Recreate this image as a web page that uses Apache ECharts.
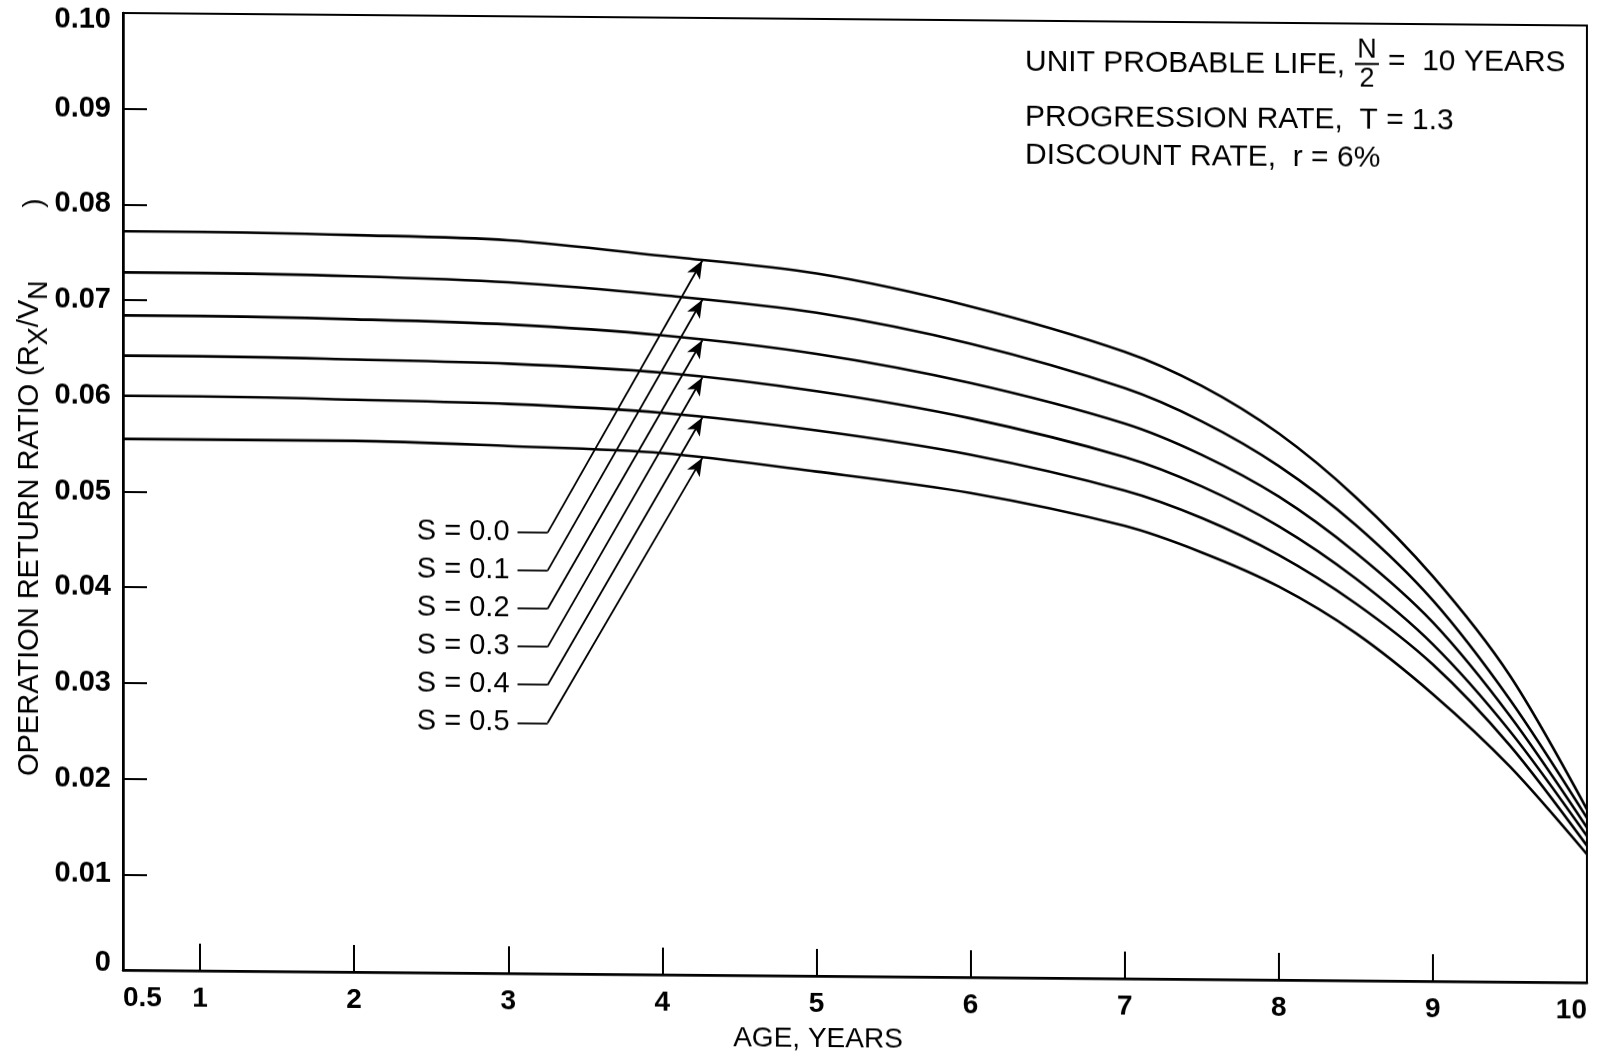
<!DOCTYPE html>
<html>
<head>
<meta charset="utf-8">
<script src="https://cdn.jsdelivr.net/npm/echarts@6/dist/echarts.min.js"></script>
<style>
  html, body { margin: 0; padding: 0; background: #fff; }
  /* the sheet sits very slightly tilted, right side lower */
  #chart { width: 1598px; height: 1060px; transform: skewY(0.49deg); transform-origin: 123px 0; }
</style>
</head>
<body>
<div id="chart"></div>
<script>
// Age in years at which the curves are sampled
const AGES = [0.5, 1, 2, 3, 4, 5, 6, 7, 7.5, 8, 8.5, 9, 9.5, 10];

// Salvage fraction of each curve
const S_VALUES = ['0.0', '0.1', '0.2', '0.3', '0.4', '0.5'];

// Operation return ratio R_X / V_N for each salvage fraction
const RATIO_S00 = [0.0772, 0.0772, 0.0770, 0.0766, 0.0751, 0.0734, 0.0701, 0.0655, 0.0620, 0.0571, 0.0505, 0.0423, 0.0320, 0.0181];
const RATIO_S01 = [0.0729, 0.0729, 0.0727, 0.0722, 0.0710, 0.0693, 0.0662, 0.0617, 0.0583, 0.0537, 0.0476, 0.0398, 0.0295, 0.0172];
const RATIO_S02 = [0.0684, 0.0684, 0.0682, 0.0678, 0.0668, 0.0650, 0.0621, 0.0580, 0.0548, 0.0505, 0.0447, 0.0375, 0.0278, 0.0162];
const RATIO_S03 = [0.0642, 0.0642, 0.0640, 0.0637, 0.0629, 0.0611, 0.0584, 0.0545, 0.0515, 0.0474, 0.0420, 0.0352, 0.0262, 0.0153];
const RATIO_S04 = [0.0600, 0.0600, 0.0598, 0.0595, 0.0587, 0.0570, 0.0546, 0.0510, 0.0482, 0.0444, 0.0394, 0.0331, 0.0247, 0.0143];
const RATIO_S05 = [0.0555, 0.0555, 0.0555, 0.0551, 0.0545, 0.0527, 0.0506, 0.0473, 0.0446, 0.0411, 0.0363, 0.0300, 0.0225, 0.0134];
const RATIOS = [RATIO_S00, RATIO_S01, RATIO_S02, RATIO_S03, RATIO_S04, RATIO_S05];

// Axis tick labels
const AGE_TICKS = [0.5, 1, 2, 3, 4, 5, 6, 7, 8, 9, 10];
const RATIO_TICKS = [0, 0.01, 0.02, 0.03, 0.04, 0.05, 0.06, 0.07, 0.08, 0.09, 0.10];

// ---- drawing ----
const SKEW = Math.tan(0.49 * Math.PI / 180);
const AXIS_X = 123;
// undo the sheet tilt for free-standing text placed in pixels
const sy = (x, y) => y - (x - AXIS_X) * SKEW;

const FONT = '"Liberation Sans", Arial, sans-serif';
const INK = '#000';

function ratioAt(values, age) {
  for (let i = 0; i < AGES.length - 1; i++) {
    if (age >= AGES[i] && age <= AGES[i + 1]) {
      const t = (age - AGES[i]) / (AGES[i + 1] - AGES[i]);
      return values[i] + t * (values[i + 1] - values[i]);
    }
  }
  return values[values.length - 1];
}

// leader lines: short horizontal stub beside each label, then a slanted arrow onto the curve
const LEADER_START_AGE = 3.06;
const LEADER_BEND_AGE = 3.256;
const ARROW_AGE = 4.26;
const LABEL_TOP = 0.0461;
const LABEL_STEP = 0.00398;

const series = RATIOS.map((vals, i) => {
  const ly = LABEL_TOP - i * LABEL_STEP;
  const tip = ratioAt(vals, ARROW_AGE);
  return {
    type: 'line',
    name: 'S = ' + S_VALUES[i],
    data: AGES.map((a, k) => [a, vals[k]]),
    smooth: 0.3,
    showSymbol: false,
    symbol: 'none',
    animation: false,
    lineStyle: { color: INK, width: 2.6 },
    markLine: {
      silent: true,
      animation: false,
      symbol: 'none',
      lineStyle: { color: INK, width: 1.8, type: 'solid' },
      label: { show: false },
      data: [
        [
          { coord: [LEADER_START_AGE, ly], symbol: 'none',
            label: { show: true, position: 'start', distance: 8, formatter: 'S = ' + S_VALUES[i],
                     color: INK, fontSize: 29, fontFamily: FONT } },
          { coord: [LEADER_BEND_AGE, ly], symbol: 'none' }
        ],
        [
          { coord: [LEADER_BEND_AGE, ly], symbol: 'none' },
          { coord: [ARROW_AGE, tip], symbol: 'arrow', symbolSize: [11, 18] }
        ]
      ]
    }
  };
});

const chart = echarts.init(document.getElementById('chart'), null, { renderer: 'canvas' });

chart.setOption({
  backgroundColor: '#fff',
  animation: false,
  grid: {
    left: AXIS_X, right: 11, top: 13, bottom: 90,
    show: true, borderColor: INK, borderWidth: 2, backgroundColor: 'transparent'
  },
  xAxis: {
    type: 'value',
    min: 0.5, max: 10,
    axisLine: { show: true, lineStyle: { color: INK, width: 2.5 } },
    axisTick: { show: true, inside: true, length: 27, customValues: AGE_TICKS.slice(1, -1),
                lineStyle: { color: INK, width: 2 } },
    axisLabel: {
      customValues: AGE_TICKS,
      formatter: v => String(v),
      color: INK, fontSize: 28, fontWeight: 'bold', fontFamily: FONT, margin: 14,
      alignMinLabel: 'left', alignMaxLabel: 'right'
    },
    splitLine: { show: false }
  },
  yAxis: {
    type: 'value',
    min: 0, max: 0.1, interval: 0.01,
    axisLine: { show: true, lineStyle: { color: INK, width: 2.5 } },
    axisTick: { show: true, inside: true, length: 24, lineStyle: { color: INK, width: 2 } },
    axisLabel: {
      customValues: RATIO_TICKS,
      // the end labels sit just inside the frame corners
      formatter: v => (v === 0 ? '{lo|0}' : (v >= 0.1 - 1e-9 ? '{hi|0.10}' : v.toFixed(2))),
      color: INK, fontSize: 29, fontWeight: 'bold', fontFamily: FONT, margin: 12,
      rich: {
        hi: { fontSize: 29, fontWeight: 'bold', fontFamily: FONT, color: INK, padding: [14, 0, 0, 0] },
        lo: { fontSize: 29, fontWeight: 'bold', fontFamily: FONT, color: INK, padding: [0, 0, 14, 0] }
      }
    },
    splitLine: { show: false }
  },
  series: series,
  graphic: [
    {
      type: 'text', x: 30, y: sy(30, 776), rotation: Math.PI / 2,
      style: {
        text: '{m|OPERATION RETURN RATIO (R}{s|X}{m|/V}{s|N}',
        align: 'left', verticalAlign: 'middle', fill: INK,
        rich: {
          m: { fontSize: 29, fontFamily: FONT, fill: INK, lineHeight: 46, verticalAlign: 'middle' },
          s: { fontSize: 27, fontFamily: FONT, fill: INK, lineHeight: 26, verticalAlign: 'bottom' }
        }
      }
    },
    {
      type: 'text', x: 34, y: sy(34, 203), rotation: Math.PI / 2,
      style: { text: ')', align: 'center', verticalAlign: 'middle', fill: INK, fontSize: 28, fontFamily: FONT }
    },
    {
      type: 'text', x: 818, y: sy(818, 1039),
      style: { text: 'AGE, YEARS', align: 'center', verticalAlign: 'middle', fill: INK,
               fontSize: 28, fontFamily: FONT }
    },
    {
      type: 'text', x: 1025, y: sy(1025, 62),
      style: { text: 'UNIT PROBABLE LIFE,', align: 'left', verticalAlign: 'middle', fill: INK,
               fontSize: 30, fontFamily: FONT }
    },
    {
      type: 'text', x: 1367, y: sy(1367, 50),
      style: { text: 'N', align: 'center', verticalAlign: 'middle', fill: INK, fontSize: 27, fontFamily: FONT }
    },
    {
      type: 'line', shape: { x1: 1355, y1: sy(1355, 64), x2: 1379, y2: sy(1379, 64) },
      style: { stroke: INK, lineWidth: 2.2 }
    },
    {
      type: 'text', x: 1367, y: sy(1367, 79),
      style: { text: '2', align: 'center', verticalAlign: 'middle', fill: INK, fontSize: 27, fontFamily: FONT }
    },
    {
      type: 'text', x: 1388, y: sy(1388, 62),
      style: { text: '=  10 YEARS', align: 'left', verticalAlign: 'middle', fill: INK,
               fontSize: 30, fontFamily: FONT }
    },
    {
      type: 'text', x: 1025, y: sy(1025, 117),
      style: { text: 'PROGRESSION RATE,  T = 1.3', align: 'left', verticalAlign: 'middle', fill: INK,
               fontSize: 30, fontFamily: FONT }
    },
    {
      type: 'text', x: 1025, y: sy(1025, 155),
      style: { text: 'DISCOUNT RATE,  r = 6%', align: 'left', verticalAlign: 'middle', fill: INK,
               fontSize: 30, fontFamily: FONT }
    }
  ]
});
</script>
</body>
</html>
